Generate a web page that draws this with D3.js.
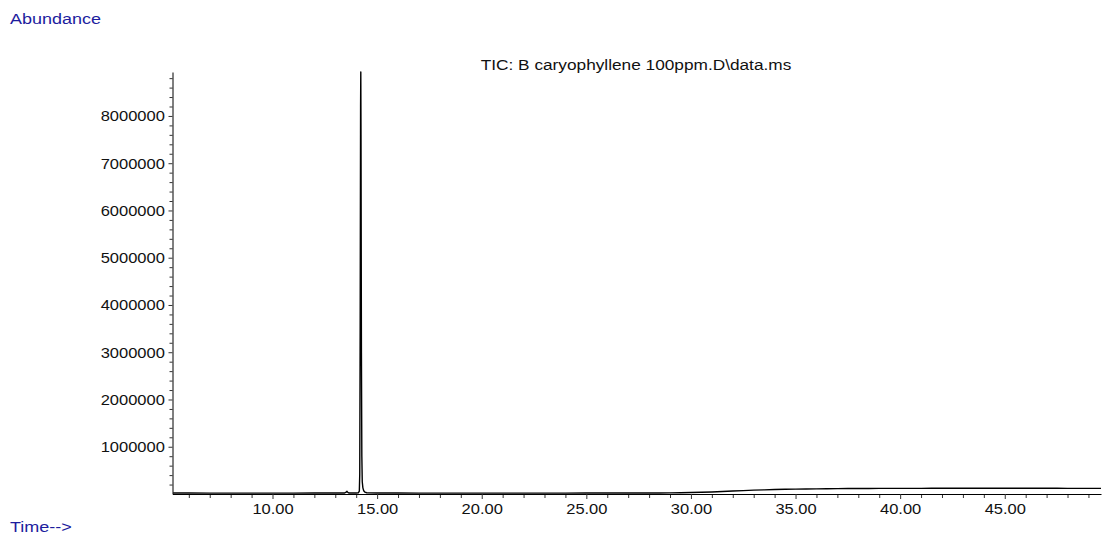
<!DOCTYPE html>
<html>
<head>
<meta charset="utf-8">
<script src="https://cdn.jsdelivr.net/npm/d3@7"></script>
<style>
  html, body { margin: 0; padding: 0; background: #fff; }
  svg { display: block; }
  text { font-family: "Liberation Sans", Arial, sans-serif; }
</style>
</head>
<body>
<svg id="chart" width="1102" height="537"></svg>
<script>
// Total ion chromatogram: retention time (min) and abundance (counts)
const times = [
  5.25, 6.0, 7.0, 8.0, 9.0, 10.0, 11.0, 12.0, 13.0, 13.45, 13.52, 13.56, 13.6, 13.66,
  14.0, 14.1, 14.15, 14.17, 14.19, 14.21, 14.22, 14.23, 14.25, 14.27, 14.29, 14.32,
  14.36, 14.42, 14.5, 15.0, 16.0, 17.0, 18.0, 19.0, 20.0, 21.0, 22.0, 23.0, 24.0,
  25.0, 26.0, 27.0, 28.0, 28.5, 29.0, 29.5, 30.0, 30.5, 31.0, 31.5, 32.0, 32.5,
  33.0, 33.5, 34.0, 34.5, 35.0, 35.5, 36.0, 36.5, 37.0, 37.5, 38.0, 38.5, 39.0,
  39.5, 40.0, 40.5, 41.0, 41.5, 42.0, 42.5, 43.0, 43.5, 44.0, 44.5, 45.0, 45.5,
  46.0, 46.5, 47.0, 47.5, 48.0, 48.5, 49.0, 49.6
];
const abundance = [
  21000, 20000, 19500, 19000, 19500, 19000, 19500, 20000, 20500, 21000, 38000, 56000, 34000, 21000,
  22000, 25000, 60000, 420000, 3500000, 8200000, 8930000, 7600000, 3000000, 800000, 260000, 130000,
  70000, 38000, 26000, 21000, 20000, 19500, 19000, 19000, 19500, 19000, 19000, 19500, 19500,
  20000, 20000, 20500, 21000, 22000, 24000, 27000, 31000, 36000, 43000, 52000, 62000, 72000,
  81000, 88000, 94000, 99000, 103000, 106000, 109000, 111000, 113000, 115000, 116000, 117000, 118000,
  118500, 119000, 120000, 119500, 121000, 120500, 122000, 121000, 122500, 121500, 123000, 122000, 121500,
  122500, 121000, 120500, 121500, 120000, 119500, 119000, 118000
];

// Axis ticks
const xMajorTicks = [10, 15, 20, 25, 30, 35, 40, 45];
const xMinorTicks = [6, 7, 8, 9, 11, 12, 13, 14, 16, 17, 18, 19, 21, 22, 23, 24, 26, 27, 28, 29,
  31, 32, 33, 34, 36, 37, 38, 39, 41, 42, 43, 44, 46, 47, 48, 49];
const yMajorTicks = [1000000, 2000000, 3000000, 4000000, 5000000, 6000000, 7000000, 8000000];
const yMinorTicks = [200000, 400000, 600000, 800000, 1200000, 1400000, 1600000, 1800000,
  2200000, 2400000, 2600000, 2800000, 3200000, 3400000, 3600000, 3800000,
  4200000, 4400000, 4600000, 4800000, 5200000, 5400000, 5600000, 5800000,
  6200000, 6400000, 6600000, 6800000, 7200000, 7400000, 7600000, 7800000,
  8200000, 8400000, 8600000, 8800000];

const titleText = "TIC: B caryophyllene 100ppm.D\\data.ms";
const yLabelText = "Abundance";
const xLabelText = "Time-->";

const svg = d3.select("#chart");
const plot = { left: 172.5, right: 1101, top: 72, bottom: 494 };

const x = d3.scaleLinear().domain([5.22, 49.6]).range([plot.left, plot.right]);
const y = d3.scaleLinear().domain([0, 8930000]).range([plot.bottom, plot.top]);

const textColor = "#111";
const labelColor = "#1d1d9e";

// Minor ticks (no labels)
svg.append("g")
  .attr("transform", `translate(0,${plot.bottom})`)
  .call(d3.axisBottom(x).tickValues(xMinorTicks).tickSize(4).tickFormat(""))
  .call(g => g.select(".domain").remove())
  .call(g => g.selectAll("line").attr("stroke", "#333"));

svg.append("g")
  .attr("transform", `translate(${plot.left},0)`)
  .call(d3.axisLeft(y).tickValues(yMinorTicks).tickSize(3).tickFormat(""))
  .call(g => g.select(".domain").remove())
  .call(g => g.selectAll("line").attr("stroke", "#333"));

// Major x axis
const xAxis = svg.append("g")
  .attr("transform", `translate(0,${plot.bottom})`)
  .call(d3.axisBottom(x).tickValues(xMajorTicks).tickSize(5).tickPadding(4)
    .tickFormat(d3.format(".2f")).tickSizeOuter(0));
xAxis.select(".domain").attr("stroke", "#000");
xAxis.selectAll("line").attr("stroke", "#333");
xAxis.selectAll("text")
  .attr("fill", textColor).style("font-size", "15px")
  .attr("transform", "scale(1.1,1)");

// Major y axis
const yAxis = svg.append("g")
  .attr("transform", `translate(${plot.left},0)`)
  .call(d3.axisLeft(y).tickValues(yMajorTicks).tickSize(4).tickPadding(3)
    .tickFormat(d3.format("d")).tickSizeOuter(0));
yAxis.select(".domain").attr("stroke", "#000");
yAxis.selectAll("line").attr("stroke", "#333");
yAxis.selectAll("text")
  .attr("fill", textColor).style("font-size", "15px")
  .attr("transform", "scale(1.1,1)");

// Chromatogram trace
const line = d3.line()
  .x((d, i) => x(times[i]))
  .y(d => y(d));

svg.append("path")
  .datum(abundance)
  .attr("fill", "none")
  .attr("stroke", "#000")
  .attr("stroke-width", 1.4)
  .attr("stroke-linejoin", "round")
  .attr("d", line);

// Title
svg.append("g")
  .attr("transform", "translate(636,70)")
  .append("text")
  .attr("text-anchor", "middle")
  .attr("transform", "scale(1.15,1)")
  .attr("fill", textColor)
  .style("font-size", "15px")
  .text(titleText);

// Axis captions
svg.append("g")
  .attr("transform", "translate(10,24)")
  .append("text")
  .attr("transform", "scale(1.2,1)")
  .attr("fill", labelColor)
  .style("font-size", "15px")
  .text(yLabelText);

svg.append("g")
  .attr("transform", "translate(10,532)")
  .append("text")
  .attr("transform", "scale(1.2,1)")
  .attr("fill", labelColor)
  .style("font-size", "15px")
  .text(xLabelText);
</script>
</body>
</html>
